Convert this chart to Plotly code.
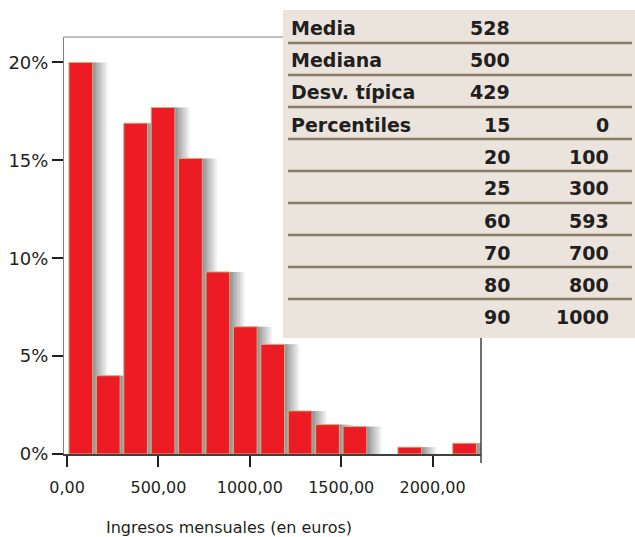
import plotly.graph_objects as go

# histogram: bins of 150 euros (start of each bin) and share of people (%)
bin_start = [0, 150, 300, 450, 600, 750, 900, 1050, 1200, 1350, 1500, 1800, 2100]
bin_width = 150
pct = [20.0, 4.0, 16.9, 17.7, 15.1, 9.3, 6.5, 5.6, 2.2, 1.5, 1.4, 0.35, 0.55]

x_ticks = [0, 500, 1000, 1500, 2000]
x_tick_text = ["0,00", "500,00", "1000,00", "1500,00", "2000,00"]
y_ticks = [0, 5, 10, 15, 20]
y_tick_text = ["0%", "5%", "10%", "15%", "20%"]

# summary table
stat_labels = ["Media", "Mediana", "Desv. típica", "Percentiles", "", "", "", "", "", ""]
stat_values = ["528", "500", "429", "15", "20", "25", "60", "70", "80", "90"]
pctl_values = ["", "", "", "0", "100", "300", "593", "700", "800", "1000"]

TEXT = "#231F20"
FONT = "DejaVu Sans"

# plot area in page pixels
L, R, T, B = 64, 481, 37, 454


def px(x):
    return (x - L) / (R - L)


def py(y):
    return (B - y) / (B - T)


centers = [s + bin_width / 2 for s in bin_start]

fig = go.Figure()

# soft drop shadow behind the bars
for off in [4, 10, 17, 25, 34, 44, 55, 67, 80]:
    fig.add_trace(go.Bar(x=centers, y=pct, width=130, offset=-65 + off,
                         marker=dict(color="#2a2a2a", line=dict(width=0)),
                         opacity=0.075, hoverinfo="skip", showlegend=False))

fig.add_trace(go.Bar(x=centers, y=pct, width=130,
                     marker=dict(color="#ED1C24", line=dict(color="#C9B48C", width=1)),
                     showlegend=False))

fig.update_layout(width=635, height=537, barmode="overlay",
                  margin=dict(l=L, r=635 - R, t=T, b=537 - B),
                  plot_bgcolor="#ffffff", paper_bgcolor="#ffffff",
                  font=dict(family=FONT, color=TEXT))

fig.update_xaxes(range=[-17, 2265], showgrid=False, zeroline=False, automargin=False,
                 showline=True, linecolor="#404040", linewidth=1.5,
                 ticks="outside", ticklen=11, tickwidth=1.5, tickcolor=TEXT,
                 tickvals=x_ticks, ticktext=x_tick_text,
                 tickfont=dict(family=FONT, size=16, color=TEXT), ticklabelstandoff=7)
fig.update_yaxes(range=[0, 21.3], showgrid=False, zeroline=False, automargin=False,
                 showline=True, linecolor="#808080", linewidth=1,
                 ticks="outside", ticklen=11, tickwidth=2, tickcolor=TEXT,
                 tickvals=y_ticks, ticktext=y_tick_text,
                 tickfont=dict(family=FONT, size=18, color=TEXT))

# frame: top and right edge
fig.add_shape(type="line", xref="paper", yref="paper", x0=0, x1=1, y0=1, y1=1,
              line=dict(color="#808080", width=1))
fig.add_shape(type="line", xref="paper", yref="paper", x0=1, x1=1, y0=1, y1=py(463),
              line=dict(color="#404040", width=1.5))

# table box
fig.add_shape(type="rect", xref="paper", yref="paper", layer="above",
              x0=px(283), x1=px(640), y0=py(10), y1=py(338),
              fillcolor="#EAE4DD", line=dict(width=0))

for i in range(len(stat_values)):
    yc = py(28.5 + 32 * i)
    fig.add_annotation(x=px(289), y=yc, xref="paper", yref="paper", text=stat_labels[i],
                       xanchor="left", yanchor="middle", showarrow=False,
                       font=dict(family=FONT, size=19, color=TEXT, weight="bold"))
    fig.add_annotation(x=px(512), y=yc, xref="paper", yref="paper", text=stat_values[i],
                       xanchor="right", yanchor="middle", showarrow=False,
                       font=dict(family=FONT, size=19, color=TEXT, weight="bold"))
    if pctl_values[i]:
        fig.add_annotation(x=px(611), y=yc, xref="paper", yref="paper", text=pctl_values[i],
                           xanchor="right", yanchor="middle", showarrow=False,
                           font=dict(family=FONT, size=19, color=TEXT, weight="bold"))
    if i < len(stat_values) - 1:
        fig.add_shape(type="line", xref="paper", yref="paper", layer="above",
                      x0=px(288), x1=px(632), y0=py(43 + 32 * i), y1=py(43 + 32 * i),
                      line=dict(color="#8C7B69", width=2.5))

fig.add_annotation(x=px(229), y=py(527), xref="paper", yref="paper",
                   text="Ingresos mensuales (en euros)", showarrow=False,
                   xanchor="center", yanchor="middle",
                   font=dict(family=FONT, size=16, color=TEXT))

# drop the default page margin so the figure sits at the window's corner
fig.write_html("out.html", config={"displayModeBar": False},
               post_script="document.body.style.margin='0';document.body.style.overflow='hidden';")
